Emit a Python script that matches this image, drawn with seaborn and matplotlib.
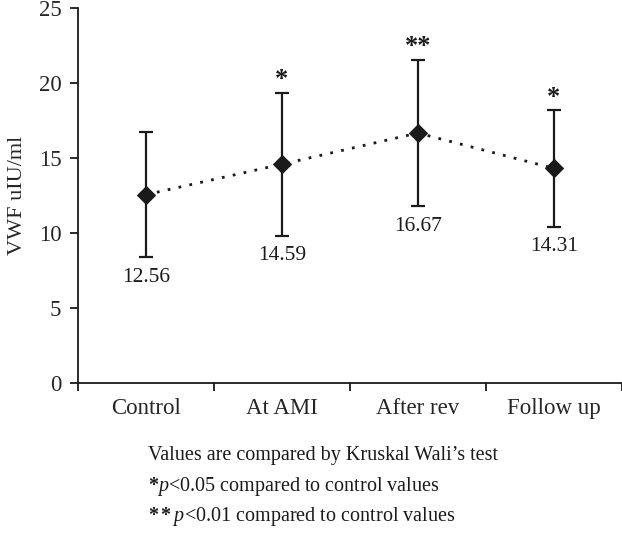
import matplotlib
matplotlib.use("Agg")
import matplotlib.pyplot as plt
import seaborn as sns
import pandas as pd

# -----------------------------
# Data
# -----------------------------
groups = ["Control", "At AMI", "After rev", "Follow up"]
means = [12.56, 14.59, 16.67, 14.31]
errors = [4.16, 4.77, 4.90, 3.89]
stars = ["", "*", "**", "*"]

df = pd.DataFrame({"group": groups, "mean": means, "err": errors})
df["pos"] = range(len(df))

sns.set_style("ticks")
plt.rcParams["font.family"] = ["Liberation Serif", "DejaVu Serif"]
plt.rcParams["font.size"] = 14
plt.rcParams["mathtext.fontset"] = "custom"
plt.rcParams["mathtext.rm"] = "Liberation Serif"
plt.rcParams["mathtext.it"] = "Liberation Serif:italic"
plt.rcParams["mathtext.bf"] = "Liberation Serif:bold"

fig = plt.figure(figsize=(6.22, 5.39), dpi=100)
ax = fig.add_axes([0.1254, 0.2894, 0.8746, 0.6956])

dark = "#1a1a1a"

ax.errorbar(df["pos"], df["mean"], yerr=df["err"], fmt="none",
            ecolor=dark, elinewidth=1.6, capsize=5, capthick=1.6, zorder=2)

sns.lineplot(data=df, x="pos", y="mean", ax=ax, color=dark,
             linestyle=(0, (1, 3)), linewidth=2, marker="D",
             markersize=9, markeredgecolor=dark, zorder=3)

for _, row in df.iterrows():
    ax.text(row["pos"], row["mean"] - row["err"] - 0.7, f"{row['mean']:.2f}",
            ha="center", va="top", fontsize=15.5, color=dark)

for p, (m, e, s) in enumerate(zip(means, errors, stars)):
    if s:
        ax.text(p, m + e + 0.1, s, ha="center", va="bottom",
                fontsize=19, fontweight="bold", color=dark)

ax.set_xlim(-0.5, 3.5)
ax.set_ylim(0, 25)
ax.set_yticks([0, 5, 10, 15, 20, 25])
ax.set_xticks(range(len(groups)))
ax.set_xticklabels(groups, fontsize=16.5)
ax.tick_params(axis="x", length=0, pad=11)
ax.set_xticks([-0.5, 0.5, 1.5, 2.5, 3.5], minor=True)
ax.tick_params(axis="x", which="minor", length=6, width=1.3, color=dark)
ax.tick_params(axis="y", length=6, width=1.3, color=dark, labelsize=16.5,
               pad=6)

ax.set_xlabel("")
ax.set_ylabel("VWF uIU/ml", fontsize=16, labelpad=8)

for side in ["top", "right"]:
    ax.spines[side].set_visible(False)
for side in ["left", "bottom"]:
    ax.spines[side].set_linewidth(1.3)
    ax.spines[side].set_color(dark)

# footnote
fig.text(0.238, 0.155, "Values are compared by Kruskal Wali\u2019s test",
         fontsize=14.5, color=dark, va="center")
fig.text(0.238, 0.097, r"$\mathbf{*}$$\mathit{p}$<0.05 compared to control values",
         fontsize=14.5, color=dark, va="center")
fig.text(0.238, 0.042, r"$\mathbf{**}$$\mathit{p}$<0.01 compared to control values",
         fontsize=14.5, color=dark, va="center")

fig.savefig("out.png", dpi=100)
